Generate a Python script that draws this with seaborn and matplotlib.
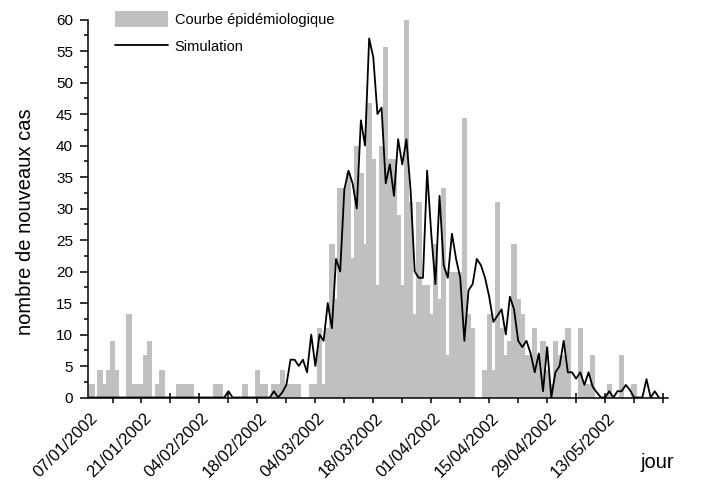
import matplotlib
matplotlib.use('Agg')
import matplotlib.pyplot as plt
import matplotlib.transforms as mtransforms
import numpy as np
import pandas as pd
import seaborn as sns
from matplotlib.lines import Line2D
from matplotlib.patches import Patch
from matplotlib.ticker import MultipleLocator

# Nouveaux cas observes par jour (jour 1 = 07/01/2002)
cas = [0, 2.2, 0, 4.4, 2.2, 4.4, 8.9, 4.4, 0, 0,
       13.3, 2.2, 2.2, 2.2, 6.7, 8.9, 0, 2.2, 4.4, 0,
       0, 0, 2.2, 2.2, 2.2, 2.2, 0, 0, 0, 0,
       0, 2.2, 2.2, 0, 0, 0, 0, 0, 2.2, 0,
       0, 4.4, 2.2, 2.2, 0, 2.2, 2.2, 4.4, 2.2, 2.2,
       2.2, 2.2, 0, 0, 2.2, 2.2, 11.1, 2.2, 11.1, 24.4,
       15.6, 33.3, 33.3, 35.6, 22.2, 40.0, 35.6, 24.4, 46.7, 37.8,
       17.8, 40.0, 55.6, 37.8, 37.8, 28.9, 17.8, 60.0, 31.1, 13.3,
       31.1, 17.8, 17.8, 13.3, 24.4, 15.6, 33.3, 6.7, 20.0, 20.0,
       20.0, 44.4, 13.3, 11.1, 0, 0, 4.4, 13.3, 4.4, 31.1,
       11.1, 6.7, 8.9, 24.4, 15.6, 13.3, 6.7, 6.7, 11.1, 6.7,
       8.9, 4.4, 2.2, 8.9, 6.7, 6.7, 11.1, 0, 0, 11.1,
       2.2, 2.2, 6.7, 0, 0, 0, 2.2, 0, 0, 6.7,
       0, 0, 2.2, 0, 0, 0, 0, 0, 0]

# Resultat de la simulation
simulation = [0, 0, 0, 0, 0, 0, 0, 0, 0, 0,
              0, 0, 0, 0, 0, 0, 0, 0, 0, 0,
              0, 0, 0, 0, 0, 0, 0, 0, 0, 0,
              0, 0, 0, 0, 1.0, 0, 0, 0, 0, 0,
              0, 0, 0, 0, 0, 1.0, 0, 0.8, 2.0, 6.0,
              6.0, 5.0, 6.0, 4.0, 10.0, 5.0, 10.0, 9.0, 15.0, 11.0,
              22.0, 20.0, 33.0, 36.0, 34.0, 30.0, 44.0, 40.0, 57.0, 54.0,
              45.0, 46.0, 34.0, 37.0, 32.0, 41.0, 37.0, 41.0, 33.0, 20.0,
              19.0, 19.0, 36.0, 26.0, 18.0, 32.0, 21.0, 19.0, 26.0, 22.0,
              19.0, 9.0, 17.0, 18.0, 22.0, 21.0, 19.0, 16.0, 12.0, 13.0,
              14.0, 10.0, 16.0, 14.0, 9.0, 8.0, 9.0, 7.0, 4.0, 7.0,
              1.0, 8.0, 0, 4.0, 5.0, 9.0, 4.0, 4.0, 3.0, 4.0,
              2.0, 4.0, 1.7, 0.8, 0, 0, 1.0, 0, 1.0, 1.0,
              2.0, 1.2, 0, 0, 0, 2.9, 0, 1.0, 0]

dates = ['07/01/2002', '21/01/2002', '04/02/2002', '18/02/2002', '04/03/2002',
         '18/03/2002', '01/04/2002', '15/04/2002', '29/04/2002', '13/05/2002']

df = pd.DataFrame({'jour': np.arange(1, len(cas) + 1), 'cas': cas, 'sim': simulation})

sns.set_style('ticks')
plt.rcParams['font.family'] = ['Liberation Sans', 'DejaVu Sans']
plt.rcParams['text.color'] = 'black'
plt.rcParams['axes.labelcolor'] = 'black'
plt.rcParams['xtick.color'] = 'black'
plt.rcParams['ytick.color'] = 'black'

fig = plt.figure(figsize=(7.14, 4.84), dpi=100)
ax = fig.add_axes([0.1228, 0.1787, 0.8128, 0.781])

sns.barplot(data=df, x='jour', y='cas', native_scale=True, width=1.3,
            color='#c0c0c0', saturation=1, linewidth=0, errorbar=None, ax=ax)
sns.lineplot(data=df, x='jour', y='sim', color='black', lw=1.3, ax=ax)

ax.set_xlim(1, 141.2)
ax.set_ylim(0, 60)
sns.despine(ax=ax)
for s in ['left', 'bottom']:
    ax.spines[s].set_linewidth(1.1)
    ax.spines[s].set_color('black')

# y axis
ax.yaxis.set_major_locator(MultipleLocator(5))
ax.yaxis.set_minor_locator(MultipleLocator(2.5))
ax.tick_params(axis='y', which='major', direction='out', length=6, width=1.1,
               labelsize=11, pad=4.5, colors='black')
ax.tick_params(axis='y', which='minor', direction='out', length=3, width=1.1, colors='black')

# x axis: tick marks every week, labels every two weeks
ax.xaxis.remove_overlapping_locs = False
ax.set_xticks(np.arange(7, 141, 7))
ax.set_xticklabels([])
ax.tick_params(axis='x', which='major', direction='inout', length=7, width=1.1, colors='black')
label_pos = [1] + list(range(14, 127, 14))
ax.set_xticks(label_pos, labels=dates, minor=True)
ax.tick_params(axis='x', which='minor', length=0, labelsize=12, pad=9.5, colors='black')
offset = mtransforms.ScaledTranslation(2 / 100, 0, fig.dpi_scale_trans)
for lab in ax.get_xticklabels(minor=True):
    lab.set_rotation(45)
    lab.set_ha('right')
    lab.set_va('top')
    lab.set_rotation_mode('anchor')
    lab.set_transform(lab.get_transform() + offset)

ax.set_ylabel('nombre de nouveaux cas', fontsize=14.5)
ax.yaxis.set_label_coords(-0.09, 0.464)
ax.set_xlabel('jour', fontsize=14.5)
ax.xaxis.set_label_coords(0.981, -0.148)
ax.xaxis.label.set_va('top')

handles = [Patch(facecolor='#c0c0c0', edgecolor='none'),
           Line2D([], [], color='black', lw=1.3)]
fig.legend(handles, ['Courbe épidémiologique', 'Simulation'],
           loc='upper left', bbox_to_anchor=(115 / 714, 1 - 11 / 484),
           frameon=False, fontsize=10.5, handlelength=3.6, handleheight=1.35,
           handletextpad=0.5, labelspacing=0.75, borderpad=0, borderaxespad=0)

fig.savefig('out.png', dpi=100)
